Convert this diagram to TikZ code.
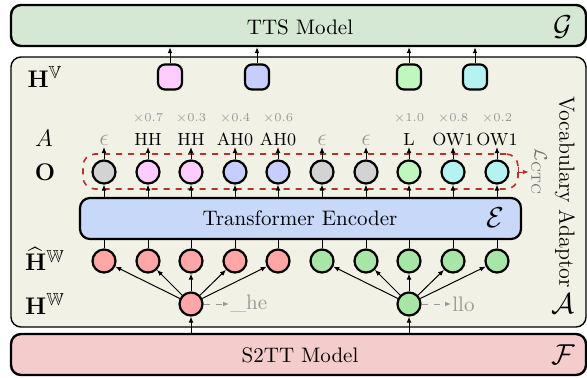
\documentclass[tikz,border=0pt]{standalone}
\usepackage{amsmath,amssymb}
\usetikzlibrary{arrows.meta}
\definecolor{ttsfill}{HTML}{D5E8D4}
\definecolor{adfill}{HTML}{F1F1E5}
\definecolor{stfill}{HTML}{F4CCCC}
\definecolor{encfill}{HTML}{C8D8F8}
\definecolor{cgray}{HTML}{D3D3D3}
\definecolor{cpink}{HTML}{FFCCFF}
\definecolor{cblue}{HTML}{C5CEFC}
\definecolor{cgreen}{HTML}{BFF7BF}
\definecolor{ccyan}{HTML}{B5F3F3}
\definecolor{hsalmon}{HTML}{FFA6A6}
\definecolor{hgreen}{HTML}{A8E6A8}
\definecolor{ctcred}{HTML}{B5342A}
\definecolor{txtgray}{HTML}{999999}
\newcommand{\epsgray}{\textcolor{txtgray}{\fontsize{12.5}{13}\selectfont$\epsilon$}}
\tikzset{
  bigbox/.style={draw, line width=1.2pt, rounded corners=5pt, minimum width=287.5pt, minimum height=20.5pt, inner sep=0pt},
  circ/.style={circle, draw, line width=1.1pt, minimum size=11.5pt, inner sep=0pt},
  vbox/.style={draw, line width=1.1pt, rounded corners=3.5pt, minimum width=12pt, minimum height=12.5pt, inner sep=0pt},
  arr/.style={-{Latex[length=3pt,width=2.4pt]}, line width=0.5pt},
  plab/.style={anchor=south, inner sep=0.6pt, font=\fontsize{8.8}{10}\selectfont},
  mlab/.style={anchor=south, inner sep=0.6pt, text=txtgray, font=\fontsize{6}{7}\selectfont},
  llab/.style={font=\fontsize{12.5}{14}\selectfont},
  clab/.style={font=\fontsize{15}{17}\selectfont},
  mtxt/.style={font=\fontsize{10.5}{12}\selectfont}
}
\begin{document}
\begin{tikzpicture}[x=0.5pt,y=-0.5pt]
\useasboundingbox (0,0) rectangle (587,377);
% big boxes
\node[bigbox, fill=ttsfill] (tts) at (298.5,25.5) {};
\node[mtxt] (ttstxt) at (300,27) {TTS Model};
\node[clab] (G) at (563,27) {$\mathcal{G}$};
\node[draw, line width=0.7pt, rounded corners=5pt, fill=adfill, minimum width=287.5pt, minimum height=135pt, inner sep=0pt] (adp) at (298.5,192) {};
\node[bigbox, fill=stfill] (st) at (298.5,354.5) {};
\node[mtxt] (sttxt) at (300,355) {S2TT Model};
\node[clab] (F) at (563,355) {$\mathcal{F}$};
\node[font=\fontsize{11}{13}\selectfont, rotate=-90] (vocad) at (565,192) {Vocabulary Adaptor};
\node[clab] (Acal) at (563,304) {$\mathcal{A}$};
% encoder
\node[draw, line width=1.1pt, rounded corners=5pt, fill=encfill, minimum width=220.5pt, minimum height=20.5pt, inner sep=0pt] (enc) at (300.5,218.5) {};
\node[mtxt] (enctxt) at (300,218) {Transformer Encoder};
\node[clab] (E) at (495,218) {$\mathcal{E}$};
% left labels
\node[llab] (lHV) at (45,77) {$\mathbf{H}^{\mathbb{V}}$};
\node[llab] (lA) at (44,138) {$A$};
\node[llab] (lO) at (45,172) {$\mathbf{O}$};
\node[llab] (lHh) at (45,259) {$\widehat{\mathbf{H}}^{\mathbb{W}}$};
\node[llab] (lHW) at (45,304) {$\mathbf{H}^{\mathbb{W}}$};
% dashed CTC box
\node[draw=ctcred, dashed, line width=0.8pt, rounded corners=6pt, minimum width=217.5pt, minimum height=17.5pt, inner sep=0pt] (dbox) at (300.5,171.5) {};
\node[rotate=-90, text=black!55, font=\fontsize{9.5}{10}\selectfont, inner sep=1pt] (lctc) at (539,172) {$\mathcal{L}_{\text{CTC}}$};
\draw[arr, color=ctcred] ([yshift=2.5pt]dbox.east) |- (lctc.south);
% circles
\foreach \i/\x/\oc/\hc in {1/104/cgray/hsalmon,2/148/cpink/hsalmon,3/191/cpink/hsalmon,4/235/cblue/hsalmon,5/278/cblue/hsalmon,6/322/cgray/hgreen,7/366/cgray/hgreen,8/409/cgreen/hgreen,9/453/ccyan/hgreen,10/497/ccyan/hgreen}{
  \node[circ, fill=\oc] (o\i) at (\x,172) {};
  \node[circ, fill=\hc] (h\i) at (\x,261) {};
  \draw[arr] (o\i |- enc.north) -- (o\i.south);
  \draw[line width=0.5pt] (h\i.north) -- (h\i |- enc.south);
}
% phoneme labels
\foreach \i/\x/\t in {1/104/{\epsgray},2/148/HH,3/191/HH,4/235/AH0,5/278/AH0,6/322/{\epsgray},7/366/{\epsgray},8/409/L,9/453/OW1,10/497/OW1}{
  \node[plab] (p\i) at (\x,147) {\t};
  \draw[arr] (o\i.north) -- (p\i.south);
}
% multipliers
\foreach \i/\x/\t in {2/148/0.7,3/191/0.3,4/235/0.4,5/278/0.6,8/409/1.0,9/453/0.8,10/497/0.2}{
  \node[mlab] (m\i) at (\x,125) {$\times$\t};
}
% H^V boxes
\node[vbox, fill=cpink] (v1) at (170,77) {};
\node[vbox, fill=cblue] (v2) at (257,77) {};
\node[vbox, fill=cgreen] (v3) at (409,77) {};
\node[vbox, fill=ccyan] (v4) at (475,77) {};
\foreach \v in {v1,v2,v3,v4}{
  \draw[arr] (\v.north) -- (\v.north |- tts.south);
}
% H^W circles
\node[circ, fill=hsalmon] (w1) at (191,304) {};
\node[circ, fill=hgreen] (w2) at (409,304) {};
\foreach \i in {1,...,5}{ \draw[arr] (w1) -- (h\i); }
\foreach \i in {6,...,10}{ \draw[arr] (w2) -- (h\i); }
\draw[arr] (w1 |- st.north) -- (w1.south);
\draw[arr] (w2 |- st.north) -- (w2.south);
% subword tokens
\node[mtxt, text=txtgray, anchor=west, inner sep=0.5pt] (t1) at (229,304) {\_he};
\node[mtxt, text=txtgray, anchor=west, inner sep=0.5pt] (t2) at (451,304) {llo};
\draw[arr, dashed, color=txtgray] (w1.east) -- (t1.west);
\draw[arr, dashed, color=txtgray] (w2.east) -- (t2.west);
\end{tikzpicture}
\end{document}
